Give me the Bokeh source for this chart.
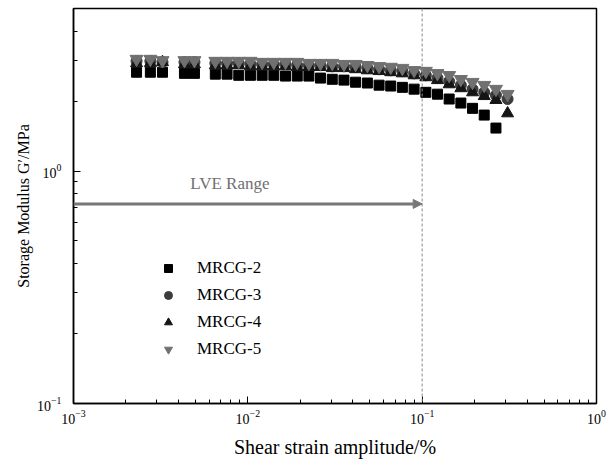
from bokeh.plotting import figure
from bokeh.models import Span, Arrow, NormalHead, Legend, LegendItem, Label, FixedTicker, LogTickFormatter
from bokeh.embed import file_html
from bokeh.resources import INLINE

# ---- data ----
x_early = [2.30e-3, 2.76e-3, 3.24e-3, 4.33e-3, 4.94e-3]
x_grid = [6.51e-3, 7.60e-3, 8.87e-3, 1.035e-2, 1.208e-2, 1.41e-2, 1.645e-2, 1.92e-2,
          2.24e-2, 2.61e-2, 3.05e-2, 3.56e-2, 4.15e-2, 4.85e-2, 5.66e-2, 6.60e-2,
          7.70e-2, 8.99e-2, 0.105, 0.1224, 0.1428, 0.1667, 0.1945, 0.227, 0.265, 0.309]

strain_2 = x_early + x_grid[:25]
strain_345 = x_early + x_grid

g_mrcg2 = [2.66, 2.66, 2.66, 2.63, 2.63,
           2.61, 2.61, 2.58, 2.58, 2.58, 2.58, 2.56, 2.56, 2.56, 2.51, 2.48, 2.46,
           2.41, 2.39, 2.34, 2.32, 2.29, 2.25, 2.18, 2.14, 2.04, 1.96, 1.86, 1.74, 1.53]
g_mrcg3 = [2.97, 2.97, 2.94, 2.94, 2.94,
           2.91, 2.91, 2.91, 2.88, 2.88, 2.88, 2.88, 2.85, 2.85, 2.85, 2.82, 2.82,
           2.80, 2.77, 2.74, 2.71, 2.69, 2.63, 2.58, 2.51, 2.43, 2.34, 2.25, 2.18, 2.12, 2.04]
g_mrcg4 = [2.91, 2.91, 2.94, 2.88, 2.88,
           2.85, 2.85, 2.85, 2.82, 2.82, 2.82, 2.82, 2.80, 2.80, 2.80, 2.77, 2.77,
           2.74, 2.71, 2.69, 2.66, 2.63, 2.58, 2.53, 2.46, 2.36, 2.27, 2.18, 2.10, 2.02, 1.77]
g_mrcg5 = [3.03, 3.03, 2.99, 2.99, 2.99,
           2.97, 2.97, 2.97, 2.97, 2.94, 2.94, 2.94, 2.94, 2.91, 2.91, 2.91, 2.88,
           2.88, 2.85, 2.82, 2.80, 2.77, 2.71, 2.69, 2.63, 2.58, 2.48, 2.41, 2.34, 2.25, 2.14]

labels = ["MRCG-2", "MRCG-3", "MRCG-4", "MRCG-5"]
x_major = [1e-3, 1e-2, 1e-1, 1.0]
y_major = [0.1, 1.0]
lve_limit = 0.1

SERIF = "Liberation Serif"

p = figure(width=615, height=466, x_axis_type="log", y_axis_type="log",
           x_range=(1e-3, 1), y_range=(0.1, 5),
           output_backend="svg", toolbar_location=None,
           min_border_left=73, min_border_right=19, min_border_top=8, min_border_bottom=63)

p.xgrid.visible = False
p.ygrid.visible = False
p.outline_line_color = "black"
p.outline_line_width = 1.5
p.background_fill_color = "white"
p.border_fill_color = "white"

x_minor = [m * d for d in (1e-3, 1e-2, 1e-1) for m in range(2, 10)]
y_minor = [m * 0.1 for m in range(2, 10)] + [2.0, 3.0, 4.0, 5.0]
p.xaxis.ticker = FixedTicker(ticks=x_major, minor_ticks=x_minor)
p.yaxis.ticker = FixedTicker(ticks=y_major, minor_ticks=y_minor)
p.xaxis.formatter = LogTickFormatter()
p.yaxis.formatter = LogTickFormatter()

for ax in (p.xaxis[0], p.yaxis[0]):
    ax.axis_line_width = 1.5
    ax.major_tick_in = 7
    ax.major_tick_out = 0
    ax.minor_tick_in = 4
    ax.minor_tick_out = 0
    ax.major_tick_line_width = 1
    ax.minor_tick_line_width = 1
    ax.major_label_text_font = SERIF
    ax.major_label_text_font_size = "14px"
    ax.major_label_text_color = "black"
    ax.axis_label_text_font = SERIF
    ax.axis_label_text_font_style = "normal"
    ax.axis_label_text_color = "black"

p.xaxis.axis_label = "Shear strain amplitude/%"
p.xaxis.axis_label_text_font_size = "20px"
p.xaxis.major_label_standoff = 6
p.xaxis.axis_label_standoff = 9

p.yaxis.axis_label = "Storage Modulus G\u2032/MPa"
p.yaxis.axis_label_text_font_size = "16px"
p.yaxis.major_label_standoff = 12
p.yaxis.axis_label_standoff = 2

# LVE boundary
p.add_layout(Span(location=lve_limit, dimension="height", line_color="#8a8a8a",
                  line_dash="3 2", line_width=1))
p.add_layout(Arrow(end=NormalHead(size=9, fill_color="#777777", line_color="#777777"),
                   x_start=1e-3, y_start=0.722, x_end=lve_limit, y_end=0.722,
                   line_color="#777777", line_width=3))
p.add_layout(Label(x=4.68e-3, y=0.88, text="LVE Range", text_font=SERIF,
                   text_font_size="17px", text_color="#707070",
                   text_baseline="middle", text_align="left"))

r2 = p.scatter(strain_2, g_mrcg2, marker="square", size=10, fill_color="black", line_color="black")
r3 = p.scatter(strain_345, g_mrcg3, marker="circle", size=11, fill_color="#3c3c3c", line_color="#3c3c3c")
r4 = p.scatter(strain_345, g_mrcg4, marker="triangle", size=12, fill_color="#151515", line_color="#151515")
r5 = p.scatter(strain_345, g_mrcg5, marker="inverted_triangle", size=13, fill_color="#707070", line_color="#707070")

legend = Legend(items=[LegendItem(label=l, renderers=[r]) for l, r in zip(labels, [r2, r3, r4, r5])],
                location=(85, 44), border_line_color=None, background_fill_alpha=0,
                label_text_font=SERIF, label_text_font_size="17px", label_text_color="black",
                glyph_width=20, glyph_height=20, label_height=20,
                label_standoff=19, spacing=7, padding=0, margin=0)
p.add_layout(legend)

open("out.html", "w").write(file_html(p, INLINE))
